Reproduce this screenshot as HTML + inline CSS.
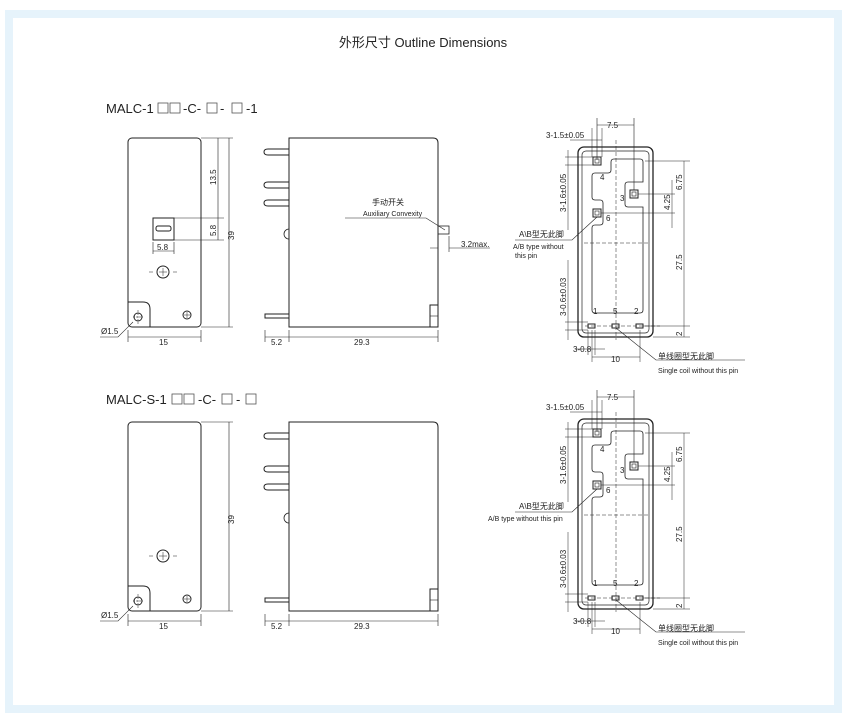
<!DOCTYPE html>
<html><head><meta charset="utf-8"><style>
html,body{margin:0;padding:0;background:#fff;}
svg{display:block;}
text{font-family:"Liberation Sans","Noto Sans CJK SC",sans-serif;fill:#222;}
</style></head><body>
<svg width="847" height="718" viewBox="0 0 847 718" xmlns="http://www.w3.org/2000/svg">
<defs>
<g id="front" fill="none" stroke="#222" stroke-width="1">
 <rect x="128" y="138" width="73" height="189" rx="4"/>
 <path d="M128,302 H143 Q150,302 150,309 V327"/>
 <circle cx="163" cy="272" r="6"/><path d="M159,272h8M163,268v8" stroke-width="0.5"/>
 <path d="M153,272h-4M173,272h4" stroke-width="0.5"/>
 <circle cx="187" cy="315" r="4"/><path d="M184,315h6M187,312v6" stroke-width="0.5"/>
 <circle cx="138" cy="317" r="4"/><path d="M133,317h10M138,310v14" stroke-width="0.5" stroke-dasharray="2,1"/>
 <path d="M133,322 L118,337 H100" stroke-width="0.6"/>
 <path d="M201,138h32M201,327h32M229,138V327" stroke-width="0.6"/>
 <path d="M128,330v12M201,330v12M128,337H201" stroke-width="0.6"/>
</g>
<g id="side" fill="none" stroke="#222" stroke-width="1">
 <path d="M289,138 H433 Q438,138 438,143 V327 H289 Z"/>
 <path d="M289,229 a5,5 0 0 0 0,10" stroke-width="0.8"/>
 <path d="M289,149 H268 Q264,149 264,152 Q264,155 268,155 H289"/>
 <path d="M289,182 H268 Q264,182 264,185 Q264,188 268,188 H289"/>
 <path d="M289,200 H268 Q264,200 264,203 Q264,206 268,206 H289"/>
 <path d="M289,314 H265 V318 H289"/>
 <rect x="430" y="305" width="8" height="22"/><path d="M430,316h8" stroke-width="0.6"/>
 <path d="M265,330v12M289,330v12M438,330v12M265,337H289M289,337H438" stroke-width="0.6"/>
</g>
<g id="right" fill="none" stroke="#222" stroke-width="1">
 <rect x="578" y="147" width="75" height="190" rx="6" stroke-width="1.3"/>
 <rect x="582" y="151" width="67" height="182" rx="4" stroke-width="0.7"/>
 <path d="M614,159 H640 Q643,159 643,162 V182 H628 Q625,182 625,185 V204 Q625,207 628,207 H643 V310 Q643,313 640,313 H595 Q592,313 592,310 V228 Q592,225 595,225 H600 Q603,225 603,222 V203 Q603,200 600,200 H595 Q592,200 592,197 V176 Q592,173 595,173 H608 Q611,173 611,170 V162 Q611,159 614,159Z" stroke-width="0.8"/>
 <rect x="593" y="157" width="8" height="8"/><rect x="595" y="159" width="4" height="4" stroke-width="0.6"/>
 <rect x="630" y="190" width="8" height="8"/><rect x="632" y="192" width="4" height="4" stroke-width="0.6"/>
 <rect x="593" y="209" width="8" height="8"/><rect x="595" y="211" width="4" height="4" stroke-width="0.6"/>
 <rect x="588" y="324" width="7" height="4"/><rect x="612" y="324" width="7" height="4"/><rect x="636" y="324" width="7" height="4"/>
 <path d="M616,140V340M584,243H650M585,326H660" stroke-width="0.5" stroke-dasharray="4,2"/>
 <path d="M597,118V160M634,118V190M597,125H634" stroke-width="0.6"/>
 <path d="M592,128V157M602,128V157M570,140H602" stroke-width="0.5"/>
 <path d="M565,157H593M565,165H593M568,150V230" stroke-width="0.5"/>
 <path d="M565,322H588M565,330H588M568,260V340" stroke-width="0.5"/>
 <path d="M588,330v25M595,330v25M575,349H605M592,330v32M640,330v32M592,357H640" stroke-width="0.5"/>
 <path d="M645,161H690M638,194H675M601,213H675M643,326H690M653,337H690M684,161V337M672,180V228" stroke-width="0.5"/>
 <path d="M597,217 L572,240 H515" stroke-width="0.6"/>
 <path d="M616,328 L656,360 H745" stroke-width="0.6"/>
</g>
</defs>
<rect x="9" y="14" width="829" height="695" fill="none" stroke="#e6f3fb" stroke-width="8"/>
<text x="423" y="47" font-size="13" text-anchor="middle" fill="#444">外形尺寸 Outline Dimensions</text>

<!-- TOP -->
<text x="106" y="113" font-size="13">MALC-1</text>
<g fill="none" stroke="#555" stroke-width="0.8">
<rect x="158" y="103" width="10" height="10"/><rect x="170" y="103" width="10" height="10"/>
<rect x="207" y="103" width="10" height="10"/><rect x="232" y="103" width="10" height="10"/></g>
<text x="183" y="113" font-size="13">-C-</text><text x="220" y="113" font-size="13">-</text><text x="246" y="113" font-size="13">-1</text>
<use href="#front"/>
<g fill="none" stroke="#222" stroke-width="1">
 <rect x="153" y="218" width="21" height="22"/><rect x="156" y="226" width="15" height="5" rx="2"/>
 <path d="M174,218h50M174,240h50M218,138V240M153,242v12M174,242v12M153,251H174" stroke-width="0.6"/>
</g>
<text font-size="8" transform="translate(216,185) rotate(-90)">13.5</text>
<text font-size="8" transform="translate(216,236) rotate(-90)">5.8</text>
<text font-size="8" transform="translate(234,240) rotate(-90)">39</text>
<text x="157" y="250" font-size="8">5.8</text>
<text x="101" y="334" font-size="8">Ø1.5</text>
<text x="159" y="345" font-size="8">15</text>
<use href="#side"/>
<g fill="none" stroke="#222" stroke-width="0.8"><rect x="438" y="226" width="11" height="8"/>
<path d="M438,236V252M449,236V252M430,248H438M449,248H490M345,218H426L445,230" stroke-width="0.6"/></g>
<text x="372" y="205" font-size="8">手动开关</text>
<text x="363" y="216" font-size="7">Auxiliary Convexity</text>
<text x="461" y="247" font-size="8">3.2max.</text>
<text x="271" y="345" font-size="8">5.2</text>
<text x="354" y="345" font-size="8">29.3</text>
<use href="#right"/>
<g font-size="8">
<text x="607" y="128">7.5</text><text x="546" y="138">3-1.5±0.05</text>
<text x="600" y="180">4</text><text x="620" y="201">3</text><text x="606" y="221">6</text>
<text x="593" y="314">1</text><text x="613" y="314">5</text><text x="634" y="314">2</text>
<text x="573" y="352">3-0.8</text><text x="611" y="362">10</text>
<text x="519" y="237">A\B型无此脚</text>
<text transform="translate(566,212) rotate(-90)">3-1.6±0.05</text>
<text transform="translate(566,316) rotate(-90)">3-0.6±0.03</text>
<text transform="translate(682,190) rotate(-90)">6.75</text>
<text transform="translate(670,210) rotate(-90)">4.25</text>
<text transform="translate(682,270) rotate(-90)">27.5</text>
<text transform="translate(682,336) rotate(-90)">2</text>
<text x="658" y="359">单线圈型无此脚</text>
</g>
<text x="513" y="249" font-size="7">A/B type without</text>
<text x="515" y="258" font-size="7">this pin</text>
<text x="658" y="373" font-size="7">Single coil without this pin</text>

<!-- BOTTOM -->
<text x="106" y="404" font-size="13">MALC-S-1</text>
<g fill="none" stroke="#555" stroke-width="0.8">
<rect x="172" y="394" width="10" height="10"/><rect x="184" y="394" width="10" height="10"/>
<rect x="222" y="394" width="10" height="10"/><rect x="246" y="394" width="10" height="10"/></g>
<text x="198" y="404" font-size="13">-C-</text><text x="236" y="404" font-size="13">-</text>
<g transform="translate(0,284)"><use href="#front"/><use href="#side"/>
<text font-size="8" transform="translate(234,240) rotate(-90)">39</text>
<text x="101" y="334" font-size="8">Ø1.5</text>
<text x="159" y="345" font-size="8">15</text>
<text x="271" y="345" font-size="8">5.2</text>
<text x="354" y="345" font-size="8">29.3</text>
</g>
<g transform="translate(0,272)"><use href="#right"/>
<g font-size="8">
<text x="607" y="128">7.5</text><text x="546" y="138">3-1.5±0.05</text>
<text x="600" y="180">4</text><text x="620" y="201">3</text><text x="606" y="221">6</text>
<text x="593" y="314">1</text><text x="613" y="314">5</text><text x="634" y="314">2</text>
<text x="573" y="352">3-0.8</text><text x="611" y="362">10</text>
<text x="519" y="237">A\B型无此脚</text>
<text transform="translate(566,212) rotate(-90)">3-1.6±0.05</text>
<text transform="translate(566,316) rotate(-90)">3-0.6±0.03</text>
<text transform="translate(682,190) rotate(-90)">6.75</text>
<text transform="translate(670,210) rotate(-90)">4.25</text>
<text transform="translate(682,270) rotate(-90)">27.5</text>
<text transform="translate(682,336) rotate(-90)">2</text>
<text x="658" y="359">单线圈型无此脚</text>
</g>
<text x="488" y="249" font-size="7">A/B type without this pin</text>
<text x="658" y="373" font-size="7">Single coil without this pin</text>
</g>
</svg>
</body></html>
